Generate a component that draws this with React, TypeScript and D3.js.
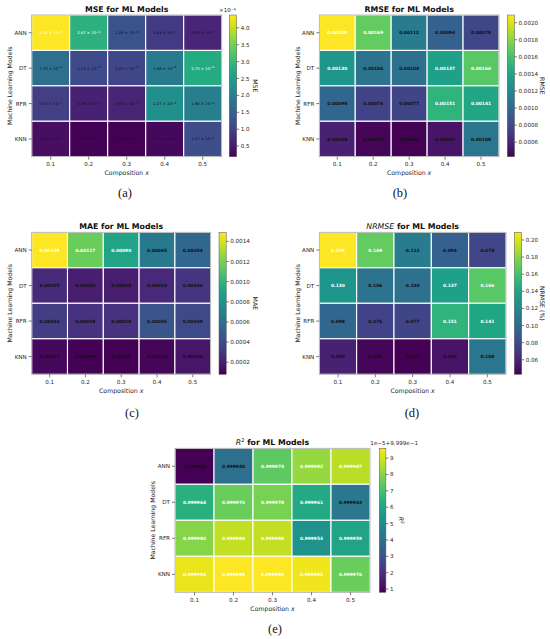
import React from "react";
import * as d3 from "d3";

const models = ["ANN", "DT", "RFR", "KNN"];
const compositions = ["0.1", "0.2", "0.3", "0.4", "0.5"];

const mseValues = [
  [4.38e-6, 2.87e-6, 1.26e-6, 8.83e-7, 6.15e-7],
  [1.7e-6, 1.13e-6, 1.07e-6, 1.89e-6, 2.75e-6],
  [9.57e-7, 5.76e-7, 5.97e-7, 2.27e-6, 1.98e-6],
  [3.41e-7, 2.03e-7, 1.86e-7, 2.71e-7, 1.17e-6],
];
const rmseValues = [
  [0.00209, 0.00169, 0.00112, 0.00094, 0.00078],
  [0.0013, 0.00106, 0.00104, 0.00137, 0.00166],
  [0.00098, 0.00076, 0.00077, 0.00151, 0.00141],
  [0.00058, 0.00045, 0.00043, 0.00052, 0.00108],
];
const maeValues = [
  [0.00149, 0.00117, 0.0009, 0.00065, 0.00054],
  [0.00025, 0.0002, 0.00019, 0.00024, 0.0003],
  [0.00033, 0.00028, 0.00028, 0.00045, 0.00039],
  [0.00011, 0.00009, 0.00008, 0.0001, 0.00016],
];
const nrmseValues = [
  [0.209, 0.169, 0.112, 0.094, 0.078],
  [0.13, 0.106, 0.104, 0.137, 0.166],
  [0.098, 0.076, 0.077, 0.151, 0.141],
  [0.058, 0.045, 0.043, 0.052, 0.108],
];
const r2Values = [
  [0.999908, 0.99994, 0.999974, 0.999982, 0.999987],
  [0.999964, 0.999976, 0.999978, 0.999961, 0.999943],
  [0.99998, 0.999988, 0.999988, 0.999953, 0.999959],
  [0.999993, 0.999996, 0.999996, 0.999994, 0.999976],
];

const mseTicks = [0.5e-6, 1.0e-6, 1.5e-6, 2.0e-6, 2.5e-6, 3.0e-6, 3.5e-6, 4.0e-6];
const rmseTicks = [0.0006, 0.0008, 0.001, 0.0012, 0.0014, 0.0016, 0.0018, 0.002];
const maeTicks = [0.0002, 0.0004, 0.0006, 0.0008, 0.001, 0.0012, 0.0014];
const nrmseTicks = [0.06, 0.08, 0.1, 0.12, 0.14, 0.16, 0.18, 0.2];
const r2Ticks = [1, 2, 3, 4, 5, 6, 7, 8, 9];
const r2Offset = 0.9999;
const r2Scale = 1e-5;

const FONT = "DejaVu Sans, sans-serif";

type PanelProps = {
  id: string;
  values: number[][];
  left: number; right: number; top: number; bottom: number;
  cbLeft: number; cbWidth: number;
  ticks: number[];
  tickFmt: (v: number) => string;
  cellText: (v: number) => React.ReactNode;
  cellBold: boolean;
  cellSize: number;
  title: React.ReactNode;
  cbLabel: React.ReactNode;
  cbLabelX: number;
  yLabelX: number;
  panelLabel: string;
  panelLabelX: number;
  panelLabelY: number;
  cbTop?: string;
  cbTopX?: number;
};

function Panel(p: PanelProps) {
  const flat = p.values.flat();
  const [mn, mx] = d3.extent(flat) as [number, number];
  const mid = (mn + mx) / 2;
  const x = d3.scaleBand<string>().domain(compositions).range([p.left, p.right]);
  const y = d3.scaleBand<string>().domain(models).range([p.top, p.bottom]);
  const color = d3.scaleSequential(d3.interpolateViridis).domain([mn, mx]);
  const cb = d3.scaleLinear().domain([mn, mx]).range([p.bottom, p.top]);
  const stops = d3.range(0, 1.0001, 0.05);
  const gid = `grad-${p.id}`;
  const cx = (p.left + p.right) / 2;
  const cy = (p.top + p.bottom) / 2;
  const tickColor = "#262626";
  return (
    <g>
      <defs>
        <linearGradient id={gid} x1="0" y1="1" x2="0" y2="0">
          {stops.map((t) => (
            <stop key={t} offset={t} stopColor={d3.interpolateViridis(t)} />
          ))}
        </linearGradient>
      </defs>
      <text x={cx} y={p.top - 3.5} textAnchor="middle" fontFamily={FONT} fontSize={7.8} fontWeight="bold" fill="#111">
        {p.title}
      </text>
      {p.values.map((row, i) =>
        row.map((v, j) => (
          <rect key={`r${i}-${j}`} x={x(compositions[j])!} y={y(models[i])!} width={x.bandwidth()} height={y.bandwidth()}
            fill={color(v)} stroke="#fff" strokeWidth={1.1} />
        ))
      )}
      <rect x={p.left} y={p.top} width={p.right - p.left} height={p.bottom - p.top} fill="none" stroke="#a8a8a8" strokeWidth={0.8} />
      {p.values.map((row, i) =>
        row.map((v, j) => (
          <text key={`t${i}-${j}`} x={x(compositions[j])! + x.bandwidth() / 2} y={y(models[i])! + y.bandwidth() / 2 + p.cellSize * 0.36}
            textAnchor="middle" fontFamily={FONT} fontSize={p.cellSize} fontWeight={p.cellBold ? "bold" : "normal"}
            fill={v > mid ? "#fff" : "#111"}>
            {p.cellText(v)}
          </text>
        ))
      )}
      {models.map((m) => {
        const yy = y(m)! + y.bandwidth() / 2;
        return (
          <g key={m}>
            <line x1={p.left - 3} x2={p.left} y1={yy} y2={yy} stroke={tickColor} strokeWidth={0.6} />
            <text x={p.left - 5} y={yy + 2} textAnchor="end" fontFamily={FONT} fontSize={5.6} fill={tickColor}>{m}</text>
          </g>
        );
      })}
      {compositions.map((c) => {
        const xx = x(c)! + x.bandwidth() / 2;
        return (
          <g key={c}>
            <line x1={xx} x2={xx} y1={p.bottom} y2={p.bottom + 3} stroke={tickColor} strokeWidth={0.6} />
            <text x={xx} y={p.bottom + 9.5} textAnchor="middle" fontFamily={FONT} fontSize={5.6} fill={tickColor}>{c}</text>
          </g>
        );
      })}
      <text x={cx} y={p.bottom + 18.5} textAnchor="middle" fontFamily={FONT} fontSize={6.2} fill={tickColor}>
        <tspan fill={tickColor}>Composition </tspan><tspan fontStyle="italic" fill={tickColor}>x</tspan>
      </text>
      <text transform={`translate(${p.yLabelX},${cy}) rotate(-90)`} textAnchor="middle" dy={2} fontFamily={FONT} fontSize={6.2} fill={tickColor}>
        Machine Learning Models
      </text>
      <rect x={p.cbLeft} y={p.top} width={p.cbWidth} height={p.bottom - p.top} fill={`url(#${gid})`} stroke="#555" strokeWidth={0.5} />
      {p.ticks.map((t) => {
        const yy = cb(t);
        return (
          <g key={t}>
            <line x1={p.cbLeft + p.cbWidth} x2={p.cbLeft + p.cbWidth + 2.5} y1={yy} y2={yy} stroke={tickColor} strokeWidth={0.6} />
            <text x={p.cbLeft + p.cbWidth + 4} y={yy + 2} fontFamily={FONT} fontSize={5.6} fill={tickColor}>{p.tickFmt(t)}</text>
          </g>
        );
      })}
      <text transform={`translate(${p.cbLabelX},${cy}) rotate(90)`} textAnchor="middle" dy={2} fontFamily={FONT} fontSize={6.2} fill={tickColor}>
        {p.cbLabel}
      </text>
      {p.cbTop && (
        <text x={p.cbTopX} y={p.top - 3.5} textAnchor="end" fontFamily={FONT} fontSize={5.6} fill={tickColor}>{p.cbTop}</text>
      )}
      <text x={p.panelLabelX} y={p.panelLabelY} textAnchor="middle" fontFamily="Liberation Serif, serif" fontSize={12.5} fill="#111">
        {p.panelLabel}
      </text>
    </g>
  );
}

function sciText(v: number) {
  const [m, e] = v.toExponential(2).split("e");
  const exp = String(parseInt(e, 10)).replace("-", "\u2212");
  return (
    <>
      {m} {"\u00D7"} 10<tspan dy={-1.3} fontSize={2.8}>{exp}</tspan>
    </>
  );
}

export default function App() {
  return (
    <svg width={550} height={639} style={{ position: "absolute", left: 0, top: 0, background: "#fff" }}>
      <rect width={550} height={639} fill="#fff" />
      <Panel id="a" values={mseValues} left={31.7} right={221.7} top={15} bottom={156.7} cbLeft={229.3} cbWidth={7.4}
        ticks={mseTicks} tickFmt={(v) => (v * 1e6).toFixed(1)} cellText={sciText} cellBold={false} cellSize={3.8}
        title="MSE for ML Models" cbLabel="MSE" cbLabelX={254.5} yLabelX={10} panelLabel="(a)" panelLabelX={125} panelLabelY={197}
        cbTop={"\u00D710\u207B\u2076"} cbTopX={236} />
      <Panel id="b" values={rmseValues} left={319.3} right={499} top={15} bottom={156.7} cbLeft={507.3} cbWidth={7.2}
        ticks={rmseTicks} tickFmt={(v) => v.toFixed(4)} cellText={(v) => v.toFixed(5)} cellBold={true} cellSize={4.4}
        title="RMSE for ML Models" cbLabel="RMSE" cbLabelX={541.7} yLabelX={297.7} panelLabel="(b)" panelLabelX={400} panelLabelY={197} />
      <Panel id="c" values={maeValues} left={31.7} right={210.7} top={232.3} bottom={374.3} cbLeft={219} cbWidth={7.2}
        ticks={maeTicks} tickFmt={(v) => v.toFixed(4)} cellText={(v) => v.toFixed(5)} cellBold={true} cellSize={4.4}
        title="MAE for ML Models" cbLabel="MAE" cbLabelX={255} yLabelX={10} panelLabel="(c)" panelLabelX={132} panelLabelY={417} />
      <Panel id="d" values={nrmseValues} left={319.3} right={506} top={232.3} bottom={374.3} cbLeft={514.3} cbWidth={7.4}
        ticks={nrmseTicks} tickFmt={(v) => v.toFixed(2)} cellText={(v) => v.toFixed(3)} cellBold={true} cellSize={4.4}
        title={<><tspan fontStyle="italic" fontWeight="normal">NRMSE</tspan> for ML Models</>}
        cbLabel="NRMSE (%)" cbLabelX={541.7} yLabelX={297.7} panelLabel="(d)" panelLabelX={412} panelLabelY={417} />
      <Panel id="e" values={r2Values} left={175} right={370} top={448.3} bottom={592.3} cbLeft={379.3} cbWidth={6.6}
        ticks={r2Ticks.map((t) => r2Offset + t * r2Scale)} tickFmt={(v) => String(Math.round((v - r2Offset) / r2Scale))}
        cellText={(v) => v.toFixed(6)} cellBold={true} cellSize={4.4}
        title={<><tspan fontStyle="italic" fontWeight="normal">R</tspan><tspan dy={-2.5} fontSize={5} fontWeight="normal">2</tspan><tspan dy={2.5}> for ML Models</tspan></>}
        cbLabel={<><tspan fontStyle="italic">R</tspan><tspan dy={-2} fontSize={4.5}>2</tspan></>}
        cbLabelX={401} yLabelX={153} panelLabel="(e)" panelLabelX={275} panelLabelY={633}
        cbTop={"1e\u22125+9.999e\u22121"} cbTopX={418} />
    </svg>
  );
}
